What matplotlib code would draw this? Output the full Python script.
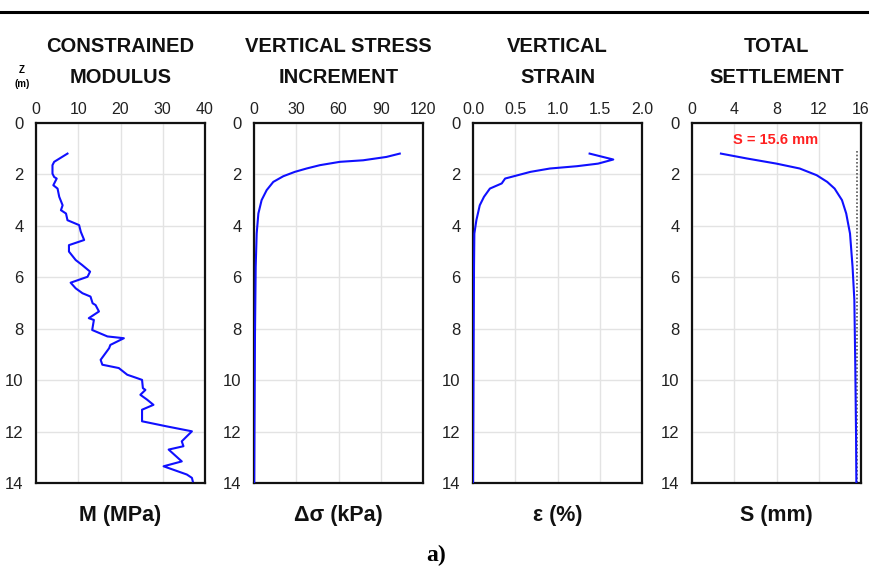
import matplotlib
matplotlib.use("Agg")
import matplotlib.pyplot as plt
from matplotlib.lines import Line2D

# ---- data ----
z_M = [1.19, 1.51, 1.64, 1.97, 2.10, 2.16, 2.42, 2.55, 2.87, 3.20, 3.39, 3.52, 3.78, 3.97,
       4.23, 4.55, 4.75, 5.00, 5.33, 5.52, 5.78, 5.98, 6.21, 6.43, 6.62, 6.75, 7.01, 7.08,
       7.33, 7.59, 7.66, 8.05, 8.30, 8.37, 8.63, 8.76, 9.21, 9.40, 9.53, 9.79, 9.92, 9.99,
       10.31, 10.38, 10.57, 10.76, 10.96, 11.15, 11.60, 11.80, 11.99, 12.38, 12.57, 12.70,
       13.16, 13.35, 13.67, 13.80, 13.93]
M_vals = [7.45, 4.3, 3.9, 3.9, 4.3, 4.9, 4.1, 5.1, 5.5, 6.3, 5.9, 7.1, 7.45, 10.2,
          10.6, 11.4, 7.8, 7.8, 9.4, 10.9, 12.8, 12.2, 8.2, 9.4, 11.0, 12.9, 13.4, 14.1,
          14.9, 12.5, 13.7, 13.3, 16.9, 20.8, 17.6, 17.3, 15.3, 15.7, 19.6, 21.6, 23.9, 25.1,
          25.3, 25.9, 24.7, 26.3, 27.8, 25.1, 25.1, 31.0, 36.9, 34.5, 34.9, 31.4,
          34.5, 30.2, 35.7, 36.9, 37.1]

z_ds = [1.19, 1.32, 1.45, 1.51, 1.64, 1.77, 1.90, 2.07, 2.29, 2.61, 3.00, 3.52, 4.30, 5.59, 8.18, 12.06, 14.0]
ds_vals = [103.5, 94, 77.5, 61, 46.8, 37.3, 29, 20.8, 13.7, 9.0, 5.4, 3.1, 1.9, 1.2, 0.7, 0.3, 0.15]

z_eps = [1.19, 1.42, 1.58, 1.68, 1.77, 1.90, 2.16, 2.35, 2.55, 2.87, 3.20, 3.78, 4.30, 5.59, 8.18, 14.0]
eps_vals = [1.38, 1.66, 1.48, 1.23, 0.91, 0.68, 0.38, 0.34, 0.20, 0.13, 0.08, 0.04, 0.016, 0.012, 0.008, 0.0]

z_S = [1.19, 1.38, 1.58, 1.77, 2.03, 2.29, 2.55, 3.00, 3.52, 4.30, 5.59, 6.88, 9.47, 12.06, 14.0]
S_vals = [2.74, 5.2, 8.0, 10.2, 11.8, 12.8, 13.5, 14.2, 14.6, 14.96, 15.2, 15.37, 15.46, 15.53, 15.56]
S_total = 15.6
z_total = [1.1, 14.0]

titles = [("CONSTRAINED", "MODULUS"), ("VERTICAL STRESS", "INCREMENT"),
          ("VERTICAL", "STRAIN"), ("TOTAL", "SETTLEMENT")]
xlabels = ["M (MPa)", "Δσ (kPa)", "ε (%)", "S (mm)"]
xticks = [[0, 10, 20, 30, 40], [0, 30, 60, 90, 120], [0.0, 0.5, 1.0, 1.5, 2.0], [0, 4, 8, 12, 16]]
xticklabels = [["0", "10", "20", "30", "40"], ["0", "30", "60", "90", "120"],
               ["0.0", "0.5", "1.0", "1.5", "2.0"], ["0", "4", "8", "12", "16"]]
yticks = [0, 2, 4, 6, 8, 10, 12, 14]
series = [(M_vals, z_M), (ds_vals, z_ds), (eps_vals, z_eps), (S_vals, z_S)]

W, H = 871, 571
fig = plt.figure(figsize=(W / 100, H / 100), dpi=100)

lefts = [36, 254, 473, 692]
aw = 169
top_px, bot_px = 123, 483

for i, left in enumerate(lefts):
    ax = fig.add_axes([left / W, 1 - bot_px / H, aw / W, (bot_px - top_px) / H])
    x, z = series[i]
    ax.plot(x, z, color='#1010ff', lw=1.5, zorder=3)
    ax.set_xlim(xticks[i][0], xticks[i][-1])
    ax.set_ylim(14, 0)
    ax.set_xticks(xticks[i])
    ax.set_xticklabels(xticklabels[i], fontsize=11.5, family='Liberation Sans')
    ax.set_yticks(yticks)
    ax.set_yticklabels([str(v) for v in yticks], fontsize=12, family='Liberation Sans')
    ax.xaxis.tick_top()
    ax.tick_params(axis='both', length=0, colors='#222222')
    ax.tick_params(axis='x', pad=4)
    ax.tick_params(axis='y', pad=9)
    ax.grid(True, color='#e3e3e3', lw=1)
    ax.set_axisbelow(True)
    for sp in ax.spines.values():
        sp.set_linewidth(1.6)
        sp.set_color('#111111')
    cx = (left + aw / 2) / W
    fig.text(cx, 1 - 47 / H, titles[i][0], ha='center', va='center', fontsize=14.5,
             fontweight='bold', family='Liberation Sans', color='#111111')
    fig.text(cx, 1 - 77 / H, titles[i][1], ha='center', va='center', fontsize=14.5,
             fontweight='bold', family='Liberation Sans', color='#111111')
    fig.text(cx, 1 - 515 / H, xlabels[i], ha='center', va='center', fontsize=15.5,
             fontweight='bold', family='Liberation Sans', color='#111111')
    if i == 3:
        ax.plot([S_total, S_total], z_total, color='#555555', lw=1.2, ls=(0, (1, 1.2)), zorder=2)
        ax.text(7.95, 0.67, "S = 15.6 mm", color='#ff2020', fontsize=10.5, fontweight='bold',
                family='Liberation Sans', ha='center', va='center')

fig.text(22 / W, 1 - 70 / H, "Z", ha='center', va='center', fontsize=7, fontweight='bold',
         family='Liberation Sans')
fig.text(22 / W, 1 - 84 / H, "(m)", ha='center', va='center', fontsize=7, fontweight='bold',
         family='Liberation Sans')

fig.add_artist(Line2D([0, 867 / W], [1 - 12 / H, 1 - 12 / H], color='black', lw=2.2,
                      transform=fig.transFigure))

fig.text(436 / W, 1 - 555 / H, "a)", ha='center', va='center', fontsize=17, fontweight='bold',
         family='Liberation Serif')

fig.savefig("out.png", dpi=100)
